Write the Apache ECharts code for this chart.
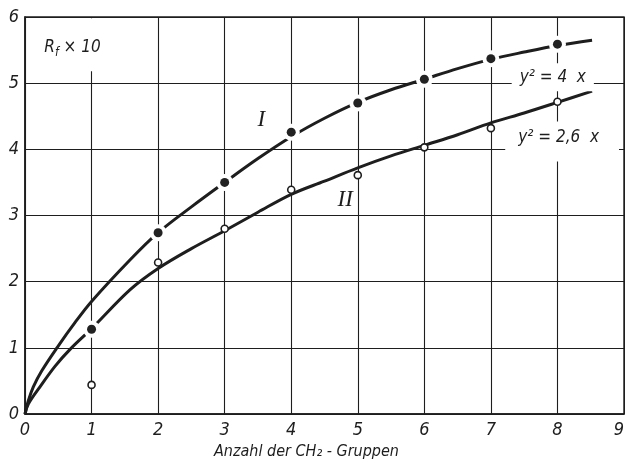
<!DOCTYPE html>
<html><head><meta charset="utf-8">
<script src="https://cdn.jsdelivr.net/npm/echarts/dist/echarts.min.js"></script>
<style>html,body{margin:0;padding:0;background:#fff}#c{width:625px;height:463px}</style>
</head><body><div id="c"></div>
<script>
// ---- data ----
const xTickLabels = ['0','1','2','3','4','5','6','7','8','9'];
const yTickLabels = ['0','1','2','3','4','5','6'];
const xAxisTitle = 'Anzahl der CH\u2082 - Gruppen';

// curve I (y^2 = 4x), sampled along the drawn curve
const curveIX = [0, 0.05, 0.125, 0.25, 0.48, 0.75, 1, 1.58, 2, 2.5, 3, 3.5, 4, 4.5, 5, 5.5, 6, 6.5, 7, 7.5, 8, 8.52];
const curveIY = [0, 0.2, 0.41, 0.65, 1.0, 1.38, 1.70, 2.33, 2.74, 3.13, 3.50, 3.86, 4.19, 4.47, 4.71, 4.90, 5.06, 5.22, 5.36, 5.47, 5.57, 5.65];
// curve II (y^2 = 2,6x)
const curveIIX = [0, 0.05, 0.225, 0.45, 0.68, 1, 1.58, 2, 2.5, 3, 3.5, 4, 4.5, 5, 5.5, 6, 6.5, 7, 7.5, 8, 8.52];
const curveIIY = [0, 0.15, 0.41, 0.72, 0.98, 1.29, 1.88, 2.2, 2.5, 2.77, 3.05, 3.32, 3.52, 3.72, 3.90, 4.06, 4.22, 4.40, 4.55, 4.71, 4.88];

// measured points
const filledX = [1, 2, 3, 4, 5, 6, 7, 8];
const filledY = [1.28, 2.74, 3.50, 4.26, 4.70, 5.06, 5.37, 5.59];
const openX = [1, 2, 3, 4, 5, 6, 7, 8];
const openY = [0.44, 2.29, 2.80, 3.39, 3.61, 4.03, 4.32, 4.72];

// annotation texts
const annotTexts = ['{a|R}{s|f}{a| \u00d7 10}', 'y\u00b2 = 4  x', 'y\u00b2 = 2,6  x', '{r|I}', '{r|II}'];

// ---- build ----
const FONT = '"DejaVu Sans Condensed", "DejaVu Sans", sans-serif';
const INK = '#1e1e1e';
const zip = (xs, ys) => xs.map((x, i) => [x, ys[i]]);

const annotAnchors = [[0.714, 5.58], [7.93, 5.09], [8.07, 4.12], [3.55, 4.44], [4.81, 3.24]];
const annotPads = [[17, 5, 12, 5], [3, 8, 3, 8], [5, 20, 13, 13], [0, 0, 0, 0], [0, 0, 0, 0]];

const chart = echarts.init(document.getElementById('c'), null, {renderer: 'canvas'});
chart.setOption({
  backgroundColor: '#fff',
  animation: false,
  grid: {left: 25, right: 1, top: 17, bottom: 49, containLabel: false, outerBoundsMode: 'none',
    show: true, borderColor: INK, borderWidth: 1.4, backgroundColor: 'transparent'},
  xAxis: {
    type: 'value', min: 0, max: 9, interval: 1,
    axisLine: {show: true, lineStyle: {color: INK, width: 1.6}},
    axisTick: {show: false},
    splitLine: {show: true, lineStyle: {color: INK, width: 1.1}},
    axisLabel: {color: INK, fontFamily: FONT, fontStyle: 'italic', fontSize: 18, margin: 7,
      alignMaxLabel: 'right',
      formatter: v => xTickLabels[Math.round(v)]},
    name: xAxisTitle, nameLocation: 'middle', nameGap: 22,
    nameTextStyle: {color: INK, fontFamily: FONT, fontStyle: 'italic', fontSize: 16, padding: [0, 36, 0, 0]}
  },
  yAxis: {
    type: 'value', min: 0, max: 6, interval: 1,
    axisLine: {show: true, lineStyle: {color: INK, width: 1.6}},
    axisTick: {show: false},
    splitLine: {show: true, lineStyle: {color: INK, width: 1.1}},
    axisLabel: {color: INK, fontFamily: FONT, fontStyle: 'italic', fontSize: 18, margin: 6,
      formatter: v => yTickLabels[Math.round(v)]}
  },
  series: [
    {type: 'line', data: zip(curveIX, curveIY), smooth: 0.35, showSymbol: false, symbol: 'none',
      lineStyle: {color: INK, width: 3}, z: 2},
    {type: 'line', data: zip(curveIIX, curveIIY), smooth: 0.35, showSymbol: false, symbol: 'none',
      lineStyle: {color: INK, width: 3}, z: 2},
    // white halo around filled dots (gaps in lines)
    {type: 'scatter', data: zip(filledX, filledY), symbol: 'circle', symbolSize: 17,
      itemStyle: {color: '#fff', opacity: 1}, z: 3, silent: true},
    {type: 'scatter', data: zip(filledX, filledY), symbol: 'circle', symbolSize: 9,
      itemStyle: {color: '#222', opacity: 1}, z: 4},
    {type: 'scatter', data: zip(openX, openY), symbol: 'circle', symbolSize: 7,
      itemStyle: {color: '#fff', borderColor: INK, borderWidth: 1.6, opacity: 1}, z: 4},
    {type: 'scatter', symbolSize: 0, z: 5, silent: true, itemStyle: {opacity: 1},
      data: annotAnchors.map((p, i) => ({
        value: p,
        label: {show: true, position: 'inside', formatter: annotTexts[i],
          color: INK, textBorderWidth: 0, opacity: 1,
          padding: annotPads[i],
          backgroundColor: i < 3 ? '#fff' : 'transparent'}
      })),
      label: {show: true, color: INK, opacity: 1, textBorderWidth: 0, fontFamily: FONT, fontStyle: 'italic', fontSize: 17, lineHeight: 22,
        rich: {
          a: {fontFamily: FONT, fontStyle: 'italic', fontSize: 17, lineHeight: 24, verticalAlign: 'middle', color: INK},
          s: {fontFamily: FONT, fontStyle: 'italic', fontSize: 12, lineHeight: 24, verticalAlign: 'bottom', color: INK},
          r: {fontFamily: '"Liberation Serif", serif', fontStyle: 'italic', fontSize: 23, color: INK}
        }}
    }
  ]
});
</script>
</body></html>
